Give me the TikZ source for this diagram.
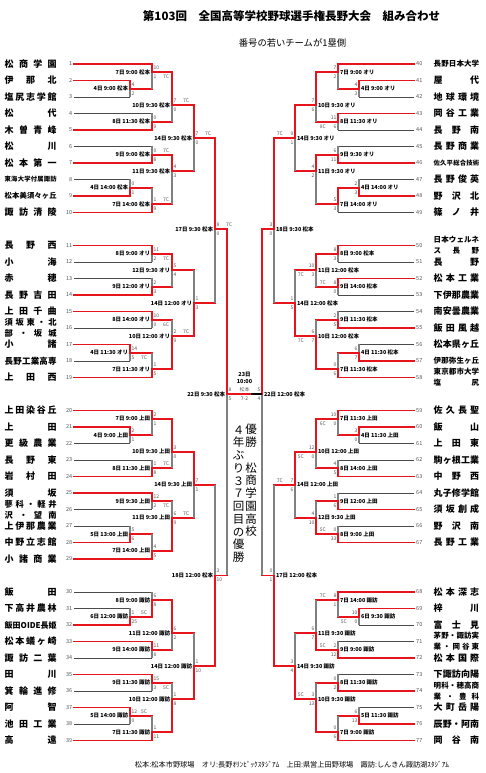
\documentclass[tikz,border=0pt]{standalone}
\usepackage{fontspec}
\setmainfont{Noto Sans CJK JP}
\usetikzlibrary{calc}
\definecolor{rd}{HTML}{E8141C}
\definecolor{gy}{HTML}{808080}
\definecolor{dk}{HTML}{4A4A4A}
\definecolor{sg}{HTML}{555555}
\newcommand\R[1]{709-8.25*#1}
\newcommand\bL[1]{\makebox[52pt]{#1}}
\newcommand\bR[1]{\makebox[45.5pt]{#1}}
\tikzset{
  win/.style={draw=rd,line width=1.6pt,line cap=rect},
  lose/.style={draw=gy,line width=1.3pt},
  tl/.style={draw=dk,line width=0.8pt},
  fin/.style={draw=black,line width=1.1pt},
  lab/.style={inner sep=0pt,font=\fontsize{5.5}{6}\selectfont\bfseries},
  sc/.style={inner sep=0pt,text=sg,font=\fontsize{5}{5}\selectfont},
  num/.style={inner sep=0pt,text=sg,font=\fontsize{5.5}{6}\selectfont},
  tn/.style={inner sep=0pt,align=left},
  vt/.style={inner sep=0pt,align=center,font=\fontsize{11.5}{12.75}\selectfont}
}
% left team: number, row, first match, line style, font size, name
\newcommand\TL[6]{%
  \coordinate (L#1) at (74,\R{#2});
  \node[num,anchor=east] at ($(L#1)+(-1.5,0)$) {#1};
  \node[tn,anchor=west,font=\fontsize{#5}{11}\selectfont\bfseries] at ($(L#1)+(-69.5,0)$) {#6};
  \draw[#4] (L#1) -- (#3|-L#1);}
\newcommand\TR[6]{%
  \coordinate (R#1) at (414,\R{#2});
  \node[num,anchor=west] at ($(R#1)+(2,0)$) {#1};
  \node[tn,anchor=west,font=\fontsize{#5}{11}\selectfont\bfseries] at ($(R#1)+(19.5,0)$) {#6};
  \draw[#4] (R#1) -- (#3|-R#1);}
% match: name, next, top input, bottom input, winner t/b, label, top score, bottom score, extra
\newcommand\ML[9]{%
  \if#5t
    \draw[lose] (#1|-#4) -- (#1);
    \draw[win] (#1|-#3) -- (#1);
  \else
    \draw[lose] (#1|-#3) -- (#1);
    \draw[win] (#1|-#4) -- (#1);
  \fi
  \draw[win] (#1) -- (#2|-#1);
  \node[lab,anchor=east] at ($(#1)+(-1.8,0)$) {#6};
  \node[sc,anchor=west] at ($(#1)+(1.3,4.3)$) {#7};
  \node[sc,anchor=west] at ($(#1)+(1.3,-4.6)$) {#8};
  #9}
\newcommand\MR[9]{%
  \if#5t
    \draw[lose] (#1|-#4) -- (#1);
    \draw[win] (#1|-#3) -- (#1);
  \else
    \draw[lose] (#1|-#3) -- (#1);
    \draw[win] (#1|-#4) -- (#1);
  \fi
  \draw[win] (#1) -- (#2|-#1);
  \node[lab,anchor=west] at ($(#1)+(1.8,0)$) {#6};
  \node[sc,anchor=east] at ($(#1)+(-1.3,4.3)$) {#7};
  \node[sc,anchor=east] at ($(#1)+(-1.3,-4.6)$) {#8};
  #9}
\newcommand\cLt[2]{\node[sc,anchor=west] at ($(#1)+(11,4.3)$) {#2};}
\newcommand\cLb[2]{\node[sc,anchor=west] at ($(#1)+(11,-4.6)$) {#2};}
\newcommand\cRt[2]{\node[sc,anchor=east] at ($(#1)+(-12,4.3)$) {#2};}
\newcommand\cRb[2]{\node[sc,anchor=east] at ($(#1)+(-12,-4.6)$) {#2};}

\begin{document}
\begin{tikzpicture}[x=1pt,y=1pt]
\fill[white] (0,0) rectangle (486,773);
\useasboundingbox (0,0) rectangle (486,773);

\node[inner sep=0pt,font=\fontsize{11.5}{12}\selectfont\bfseries] (title) at (291.5,757) {第103回　全国高等学校野球選手権長野大会　組み合わせ};
\node[inner sep=0pt,font=\fontsize{9.3}{10}\selectfont] (sub) at (292.5,730) {番号の若いチームが1塁側};
\node[inner sep=0pt,font=\fontsize{7.2}{8}\selectfont] (foot) at (292,8.5) {松本:松本市野球場　オリ:長野ｵﾘﾝﾋﾟｯｸｽﾀｼﾞｱﾑ　上田:県営上田野球場　諏訪:しんきん諏訪湖ｽﾀｼﾞｱﾑ};

% ---------- match positions, left ----------
\coordinate (a1) at (130,\R{3});
\coordinate (a2) at (152,\R{1});
\coordinate (a3) at (152,\R{7});
\coordinate (a4) at (172,\R{5});
\coordinate (a5) at (152,\R{11});
\coordinate (a6) at (130,\R{15});
\coordinate (a7) at (152,\R{17});
\coordinate (a8) at (172,\R{13});
\coordinate (a9) at (194,\R{9});
\coordinate (a10) at (152,\R{23});
\coordinate (a11) at (152,\R{27});
\coordinate (a12) at (172,\R{25});
\coordinate (a13) at (130,\R{35});
\coordinate (a14) at (152,\R{31});
\coordinate (a15) at (152,\R{37});
\coordinate (a16) at (172,\R{33});
\coordinate (a17) at (194,\R{29});
\coordinate (a18) at (215,\R{20});
\coordinate (a19) at (130,\R{45});
\coordinate (a20) at (152,\R{43});
\coordinate (a21) at (152,\R{49});
\coordinate (a22) at (172,\R{47});
\coordinate (a23) at (152,\R{53});
\coordinate (a24) at (130,\R{57});
\coordinate (a25) at (152,\R{59});
\coordinate (a26) at (172,\R{55});
\coordinate (a27) at (194,\R{51});
\coordinate (a28) at (130,\R{67});
\coordinate (a29) at (152,\R{65});
\coordinate (a30) at (152,\R{71});
\coordinate (a31) at (172,\R{69});
\coordinate (a32) at (152,\R{75});
\coordinate (a33) at (130,\R{79});
\coordinate (a34) at (152,\R{81});
\coordinate (a35) at (172,\R{77});
\coordinate (a36) at (194,\R{73});
\coordinate (a37) at (215,\R{62});
\coordinate (sL) at (227,\R{40});
% ---------- match positions, right ----------
\coordinate (b1) at (359,\R{3});
\coordinate (b2) at (338,\R{1});
\coordinate (b3) at (338,\R{7});
\coordinate (b4) at (316,\R{5});
\coordinate (b5) at (338,\R{11});
\coordinate (b6) at (359,\R{15});
\coordinate (b7) at (338,\R{17});
\coordinate (b8) at (316,\R{13});
\coordinate (b9) at (295,\R{9});
\coordinate (b10) at (338,\R{23});
\coordinate (b11) at (338,\R{27});
\coordinate (b12) at (316,\R{25});
\coordinate (b13) at (338,\R{31});
\coordinate (b14) at (359,\R{35});
\coordinate (b15) at (338,\R{37});
\coordinate (b16) at (316,\R{33});
\coordinate (b17) at (295,\R{29});
\coordinate (b18) at (274,\R{20});
\coordinate (b19) at (359,\R{45});
\coordinate (b20) at (338,\R{43});
\coordinate (b21) at (338,\R{49});
\coordinate (b22) at (316,\R{47});
\coordinate (b23) at (338,\R{53});
\coordinate (b24) at (338,\R{57});
\coordinate (b25) at (316,\R{55});
\coordinate (b26) at (295,\R{51});
\coordinate (b27) at (359,\R{67});
\coordinate (b28) at (338,\R{65});
\coordinate (b29) at (338,\R{71});
\coordinate (b30) at (316,\R{69});
\coordinate (b31) at (338,\R{75});
\coordinate (b33) at (359,\R{79});
\coordinate (b34) at (338,\R{81});
\coordinate (b35) at (316,\R{77});
\coordinate (b36) at (295,\R{73});
\coordinate (b37) at (274,\R{62});
\coordinate (sR) at (262,\R{40});
\coordinate (fm) at (250,\R{40});

% ---------- left teams ----------
\TL{1}{0}{a2}{win}{9}{\bL{松\hfill 商\hfill 学\hfill 園}}
\TL{2}{2}{a1}{win}{9}{\bL{伊\hfill 那\hfill 北}}
\TL{3}{4}{a1}{tl}{9}{\bL{塩\hfill 尻\hfill 志\hfill 学\hfill 館}}
\TL{4}{6}{a3}{tl}{9}{\bL{松\hfill 代}}
\TL{5}{8}{a3}{win}{9}{\bL{木\hfill 曽\hfill 青\hfill 峰}}
\TL{6}{10}{a5}{tl}{9}{\bL{松\hfill 川}}
\TL{7}{12}{a5}{win}{9}{\bL{松\hfill 本\hfill 第\hfill 一}}
\TL{8}{14}{a6}{tl}{6.3}{\bL{東\hfill 海\hfill 大\hfill 学\hfill 付\hfill 属\hfill 諏\hfill 訪}}
\TL{9}{16}{a6}{win}{7.3}{\bL{松\hfill 本\hfill 美\hfill 須\hfill 々\hfill ヶ\hfill 丘}}
\TL{10}{18}{a7}{win}{9}{\bL{諏\hfill 訪\hfill 清\hfill 陵}}
\TL{11}{22}{a10}{win}{9}{\bL{長\hfill 野\hfill 西}}
\TL{12}{24}{a10}{tl}{9}{\bL{小\hfill 海}}
\TL{13}{26}{a11}{tl}{9}{\bL{赤\hfill 穂}}
\TL{14}{28}{a11}{win}{9}{\bL{長\hfill 野\hfill 吉\hfill 田}}
\TL{15}{30}{a14}{win}{9}{\bL{上\hfill 田\hfill 千\hfill 曲}}
\TL{16}{32}{a14}{tl}{8.3}{\bL{須\hfill 坂\hfill 東\hfill ・\hfill 北}\\\bL{部\hfill ・\hfill 坂\hfill 城}}
\TL{17}{34}{a13}{win}{9}{\bL{小\hfill 諸}}
\TL{18}{36}{a13}{tl}{8.5}{\bL{長\hfill 野\hfill 工\hfill 業\hfill 高\hfill 専}}
\TL{19}{38}{a15}{win}{9}{\bL{上\hfill 田\hfill 西}}
\TL{20}{42}{a20}{win}{9}{\bL{上\hfill 田\hfill 染\hfill 谷\hfill 丘}}
\TL{21}{44}{a19}{win}{9}{\bL{上\hfill 田}}
\TL{22}{46}{a19}{tl}{9}{\bL{更\hfill 級\hfill 農\hfill 業}}
\TL{23}{48}{a21}{tl}{9}{\bL{長\hfill 野\hfill 東}}
\TL{24}{50}{a21}{win}{9}{\bL{岩\hfill 村\hfill 田}}
\TL{25}{52}{a23}{win}{9}{\bL{須\hfill 坂}}
\TL{26}{54}{a23}{tl}{8.3}{\bL{蓼\hfill 科\hfill ・\hfill 軽\hfill 井}\\\bL{沢\hfill ・\hfill 望\hfill 南}}
\TL{27}{56}{a24}{tl}{9}{\bL{上\hfill 伊\hfill 那\hfill 農\hfill 業}}
\TL{28}{58}{a24}{win}{9}{\bL{中\hfill 野\hfill 立\hfill 志\hfill 館}}
\TL{29}{60}{a25}{win}{9}{\bL{小\hfill 諸\hfill 商\hfill 業}}
\TL{30}{64}{a29}{tl}{9}{\bL{飯\hfill 田}}
\TL{31}{66}{a28}{tl}{9}{\bL{下\hfill 高\hfill 井\hfill 農\hfill 林}}
\TL{32}{68}{a28}{win}{8}{\bL{飯\hfill 田\hfill OIDE\hfill 長\hfill 姫}}
\TL{33}{70}{a30}{win}{9}{\bL{松\hfill 本\hfill 蟻\hfill ヶ\hfill 崎}}
\TL{34}{72}{a30}{tl}{9}{\bL{諏\hfill 訪\hfill 二\hfill 葉}}
\TL{35}{74}{a32}{win}{9}{\bL{田\hfill 川}}
\TL{36}{76}{a32}{tl}{9}{\bL{箕\hfill 輪\hfill 進\hfill 修}}
\TL{37}{78}{a33}{win}{9}{\bL{阿\hfill 智}}
\TL{38}{80}{a33}{tl}{9}{\bL{池\hfill 田\hfill 工\hfill 業}}
\TL{39}{82}{a34}{win}{9}{\bL{高\hfill 遠}}

% ---------- right teams ----------
\TR{40}{0}{b2}{win}{7.5}{\bR{長\hfill 野\hfill 日\hfill 本\hfill 大\hfill 学}}
\TR{41}{2}{b1}{win}{9}{\bR{屋\hfill 代}}
\TR{42}{4}{b1}{tl}{9}{\bR{地\hfill 球\hfill 環\hfill 境}}
\TR{43}{6}{b3}{win}{9}{\bR{岡\hfill 谷\hfill 工\hfill 業}}
\TR{44}{8}{b3}{tl}{9}{\bR{長\hfill 野\hfill 南}}
\TR{45}{10}{b5}{tl}{9}{\bR{長\hfill 野\hfill 商\hfill 業}}
\TR{46}{12}{b5}{win}{6.4}{\bR{佐\hfill 久\hfill 平\hfill 総\hfill 合\hfill 技\hfill 術}}
\TR{47}{14}{b6}{tl}{9}{\bR{長\hfill 野\hfill 俊\hfill 英}}
\TR{48}{16}{b6}{win}{9}{\bR{野\hfill 沢\hfill 北}}
\TR{49}{18}{b7}{tl}{9}{\bR{篠\hfill ノ\hfill 井}}
\TR{50}{22}{b10}{win}{7.5}{\bR{日\hfill 本\hfill ウ\hfill ェ\hfill ル\hfill ネ}\\\bR{ス\hfill 長\hfill 野}}
\TR{51}{24}{b10}{tl}{9}{\bR{長\hfill 野}}
\TR{52}{26}{b11}{win}{9}{\bR{松\hfill 本\hfill 工\hfill 業}}
\TR{53}{28}{b11}{tl}{9}{\bR{下\hfill 伊\hfill 那\hfill 農\hfill 業}}
\TR{54}{30}{b13}{tl}{9}{\bR{南\hfill 安\hfill 曇\hfill 農\hfill 業}}
\TR{55}{32}{b13}{win}{9}{\bR{飯\hfill 田\hfill 風\hfill 越}}
\TR{56}{34}{b14}{tl}{9}{\bR{松\hfill 本\hfill 県\hfill ヶ\hfill 丘}}
\TR{57}{36}{b14}{win}{7.5}{\bR{伊\hfill 那\hfill 弥\hfill 生\hfill ヶ\hfill 丘}}
\TR{58}{38}{b15}{win}{7.5}{\bR{東\hfill 京\hfill 都\hfill 市\hfill 大\hfill 学}\\\bR{塩\hfill 尻}}
\TR{59}{42}{b20}{win}{9}{\bR{佐\hfill 久\hfill 長\hfill 聖}}
\TR{60}{44}{b19}{win}{9}{\bR{飯\hfill 山}}
\TR{61}{46}{b19}{tl}{9}{\bR{上\hfill 田\hfill 東}}
\TR{62}{48}{b21}{tl}{9}{\bR{駒\hfill ヶ\hfill 根\hfill 工\hfill 業}}
\TR{63}{50}{b21}{win}{9}{\bR{中\hfill 野\hfill 西}}
\TR{64}{52}{b23}{tl}{9}{\bR{丸\hfill 子\hfill 修\hfill 学\hfill 館}}
\TR{65}{54}{b23}{win}{9}{\bR{須\hfill 坂\hfill 創\hfill 成}}
\TR{66}{56}{b24}{tl}{9}{\bR{野\hfill 沢\hfill 南}}
\TR{67}{58}{b24}{win}{9}{\bR{長\hfill 野\hfill 工\hfill 業}}
\TR{68}{64}{b28}{win}{9}{\bR{松\hfill 本\hfill 深\hfill 志}}
\TR{69}{66}{b27}{win}{9}{\bR{梓\hfill 川}}
\TR{70}{68}{b27}{tl}{9}{\bR{富\hfill 士\hfill 見}}
\TR{71}{70}{b29}{tl}{7.5}{\bR{茅\hfill 野\hfill ・\hfill 諏\hfill 訪\hfill 実}\\\bR{業\hfill ・\hfill 岡\hfill 谷\hfill 東}}
\TR{72}{72}{b29}{win}{9}{\bR{松\hfill 本\hfill 国\hfill 際}}
\TR{73}{74}{b31}{tl}{9}{\bR{下\hfill 諏\hfill 訪\hfill 向\hfill 陽}}
\TR{74}{76}{b31}{win}{7.5}{\bR{明\hfill 科\hfill ・\hfill 穂\hfill 高\hfill 商}\\\bR{業\hfill ・\hfill 豊\hfill 科}}
\TR{75}{78}{b33}{tl}{9}{\bR{大\hfill 町\hfill 岳\hfill 陽}}
\TR{76}{80}{b33}{win}{9}{\bR{辰\hfill 野\hfill ・\hfill 阿\hfill 南}}
\TR{77}{82}{b34}{win}{9}{\bR{岡\hfill 谷\hfill 南}}

% ---------- left matches ----------
\ML{a1}{a2}{L2}{L3}{t}{4日 9:00 松本}{4}{2}{}
\ML{a3}{a4}{L4}{L5}{b}{8日 11:30 松本}{0}{9}{}
\ML{a5}{a8}{L6}{L7}{b}{9日 9:00 松本}{0}{8}{\cLt{a5}{7C}}
\ML{a6}{a7}{L8}{L9}{b}{4日 14:00 松本}{0}{1}{}
\ML{a2}{a4}{L1}{a1}{t}{7日 9:00 松本}{10}{1}{\cLb{a2}{7C}}
\ML{a7}{a8}{a6}{L10}{b}{7日 14:00 松本}{1}{9}{\cLt{a7}{7C}}
\ML{a4}{a9}{a2}{a3}{t}{10日 9:30 松本}{7}{0}{\cLt{a4}{7C}}
\ML{a8}{a9}{a5}{a7}{t}{11日 9:30 松本}{4}{3}{}
\ML{a9}{a18}{a4}{a8}{t}{14日 9:30 松本}{7}{0}{\cLt{a9}{7C}}
\ML{a10}{a12}{L11}{L12}{t}{8日 9:00 オリ}{11}{2}{\cLb{a10}{7C}}
\ML{a11}{a12}{L13}{L14}{b}{9日 12:00 オリ}{2}{3}{}
\ML{a13}{a15}{L17}{L18}{t}{4日 11:30 オリ}{14}{5}{\cLb{a13}{7C}}
\ML{a14}{a16}{L15}{L16}{t}{8日 14:00 オリ}{10}{0}{\cLb{a14}{6C}}
\ML{a15}{a16}{a13}{L19}{b}{7日 11:30 オリ}{1}{5}{}
\ML{a12}{a17}{a10}{a11}{t}{12日 9:30 オリ}{5}{4}{}
\ML{a16}{a17}{a14}{a15}{b}{10日 12:00 オリ}{2}{9}{\cLt{a16}{7C}}
\ML{a17}{a18}{a12}{a16}{b}{14日 12:00 オリ}{1}{3}{}
\ML{a18}{sL}{a9}{a17}{t}{17日 9:30 松本}{8}{0}{\cLt{a18}{7C}}
\ML{a19}{a20}{L21}{L22}{t}{4日 9:00 上田}{2}{1}{}
\ML{a20}{a22}{L20}{a19}{t}{7日 9:00 上田}{2}{1}{}
\ML{a21}{a22}{L23}{L24}{b}{8日 11:30 上田}{1}{8}{\cLt{a21}{7C}}
\ML{a22}{a27}{a20}{a21}{t}{10日 9:30 上田}{3}{0}{}
\ML{a23}{a26}{L25}{L26}{t}{9日 9:30 上田}{12}{2}{\cLb{a23}{7C}}
\ML{a24}{a25}{L27}{L28}{b}{5日 13:00 上田}{5}{6}{}
\ML{a25}{a26}{a24}{L29}{b}{7日 14:00 上田}{4}{5}{}
\ML{a26}{a27}{a23}{a25}{b}{11日 9:30 上田}{6}{9}{\cLt{a26}{7C}}
\ML{a27}{a37}{a22}{a26}{t}{14日 9:30 上田}{7}{1}{}
\ML{a28}{a29}{L31}{L32}{b}{6日 12:00 諏訪}{1}{25}{\cLt{a28}{5C}}
\ML{a29}{a31}{L30}{a28}{b}{8日 9:00 諏訪}{6}{8}{}
\ML{a30}{a31}{L33}{L34}{t}{9日 14:00 諏訪}{11}{8}{}
\ML{a31}{a36}{a29}{a30}{t}{11日 12:00 諏訪}{6}{2}{}
\ML{a32}{a35}{L35}{L36}{t}{9日 11:30 諏訪}{15}{3}{\cLb{a32}{5C}}
\ML{a33}{a34}{L37}{L38}{t}{5日 14:00 諏訪}{12}{0}{\cLt{a33}{5C}}
\ML{a34}{a35}{a33}{L39}{b}{7日 11:30 諏訪}{1}{11}{}
\ML{a35}{a36}{a32}{a34}{b}{10日 12:00 諏訪}{1}{8}{}
\ML{a36}{a37}{a31}{a35}{b}{14日 12:00 諏訪}{1}{10}{}
\ML{a37}{sL}{a27}{a36}{b}{18日 12:00 松本}{3}{10}{}
\ML{sL}{sL}{a18}{a37}{t}{22日 9:30 松本}{8}{5}{}

% ---------- right matches ----------
\MR{b1}{b2}{R41}{R42}{t}{4日 9:00 オリ}{4}{3}{}
\MR{b3}{b4}{R43}{R44}{t}{8日 11:30 オリ}{11}{6}{\cRb{b3}{8C}}
\MR{b5}{b8}{R45}{R46}{b}{9日 9:30 オリ}{6}{11}{}
\MR{b6}{b7}{R47}{R48}{b}{4日 14:00 オリ}{2}{3}{}
\MR{b2}{b4}{R40}{b1}{t}{7日 9:00 オリ}{7}{2}{}
\MR{b7}{b8}{b6}{R49}{t}{7日 14:00 オリ}{5}{3}{}
\MR{b4}{b9}{b2}{b3}{t}{10日 9:30 オリ}{7}{6}{}
\MR{b8}{b9}{b5}{b7}{t}{11日 9:30 オリ}{4}{2}{}
\MR{b9}{b18}{b4}{b8}{t}{14日 9:30 オリ}{9}{1}{\cRt{b9}{7C}}
\MR{b10}{b12}{R50}{R51}{t}{8日 9:00 松本}{8}{3}{}
\MR{b11}{b12}{R52}{R53}{t}{9日 14:00 松本}{8}{0}{\cRt{b11}{7C}}
\MR{b13}{b16}{R54}{R55}{b}{9日 11:30 松本}{2}{5}{}
\MR{b14}{b15}{R56}{R57}{b}{4日 11:30 松本}{6}{7}{}
\MR{b15}{b16}{b14}{R58}{b}{7日 11:30 松本}{0}{6}{}
\MR{b12}{b17}{b10}{b11}{t}{11日 12:00 松本}{10}{3}{\cRb{b12}{7C}}
\MR{b16}{b17}{b13}{b15}{b}{10日 12:00 松本}{6}{7}{\cRb{b16}{7C}}
\MR{b17}{b18}{b12}{b16}{b}{14日 12:00 松本}{1}{5}{}
\MR{b18}{sR}{b9}{b17}{t}{18日 9:30 松本}{3}{0}{}
\MR{b19}{b20}{R60}{R61}{t}{4日 11:30 上田}{3}{0}{}
\MR{b20}{b22}{R59}{b19}{t}{7日 11:30 上田}{10}{0}{\cRb{b20}{6C}}
\MR{b21}{b22}{R62}{R63}{b}{8日 14:00 上田}{4}{5}{}
\MR{b22}{b26}{b20}{b21}{t}{10日 12:00 上田}{12}{0}{\cRb{b22}{5C}}
\MR{b23}{b25}{R64}{R65}{b}{9日 12:00 上田}{1}{6}{}
\MR{b24}{b25}{R66}{R67}{b}{8日 9:00 上田}{0}{33}{\cRt{b24}{5C}}
\MR{b25}{b26}{b23}{b24}{b}{12日 9:30 上田}{4}{10}{}
\MR{b26}{b37}{b22}{b25}{t}{14日 12:00 上田}{7}{6}{\cRt{b26}{7C}}
\MR{b27}{b28}{R69}{R70}{t}{6日 9:30 諏訪}{10}{0}{\cRb{b27}{5C}}
\MR{b28}{b30}{R68}{b27}{t}{7日 14:00 諏訪}{8}{1}{\cRt{b28}{7C}}
\MR{b29}{b30}{R71}{R72}{b}{9日 9:00 諏訪}{2}{12}{\cRt{b29}{5C}}
\MR{b30}{b36}{b28}{b29}{b}{11日 9:30 諏訪}{6}{7}{}
\MR{b31}{b35}{R73}{R74}{b}{8日 11:30 諏訪}{0}{2}{}
\MR{b33}{b34}{R75}{R76}{b}{5日 11:30 諏訪}{6}{13}{}
\MR{b34}{b35}{b33}{R77}{b}{7日 9:00 諏訪}{0}{6}{}
\MR{b35}{b36}{b31}{b34}{b}{10日 9:30 諏訪}{3}{13}{\cRt{b35}{5C}}
\MR{b36}{b37}{b30}{b35}{b}{14日 9:30 諏訪}{3}{4}{}
\MR{b37}{sR}{b26}{b36}{b}{17日 12:00 松本}{0}{1}{}
\MR{sR}{sR}{b18}{b37}{t}{22日 12:00 松本}{5}{4}{}

% ---------- final ----------
\draw[fin] (fm) -- (sR);
\draw[win] (sL) -- (fm);
\node[lab] (fday) at ($(sL)!0.5!(sR)+(0,19)$) {23日};
\node[lab] (ftime) at ($(sL)!0.5!(sR)+(0,12)$) {10:00};
\node[sc] (fven) at ($(sL)!0.5!(sR)+(0,4.3)$) {松本};
\node[sc] (fsc) at ($(sL)!0.5!(sR)+(0,-4.6)$) {7-2};

% ---------- champion text ----------
\node[vt,anchor=north] (champ1) at (251,773-424) {優\\勝\\\mbox{}\\松\\商\\学\\園\\高\\校};
\node[vt,anchor=north] (champ2) at (238.5,773-425.5) {４\\年\\ぶ\\り\\３\\７\\回\\目\\の\\優\\勝};
\end{tikzpicture}
\end{document}
